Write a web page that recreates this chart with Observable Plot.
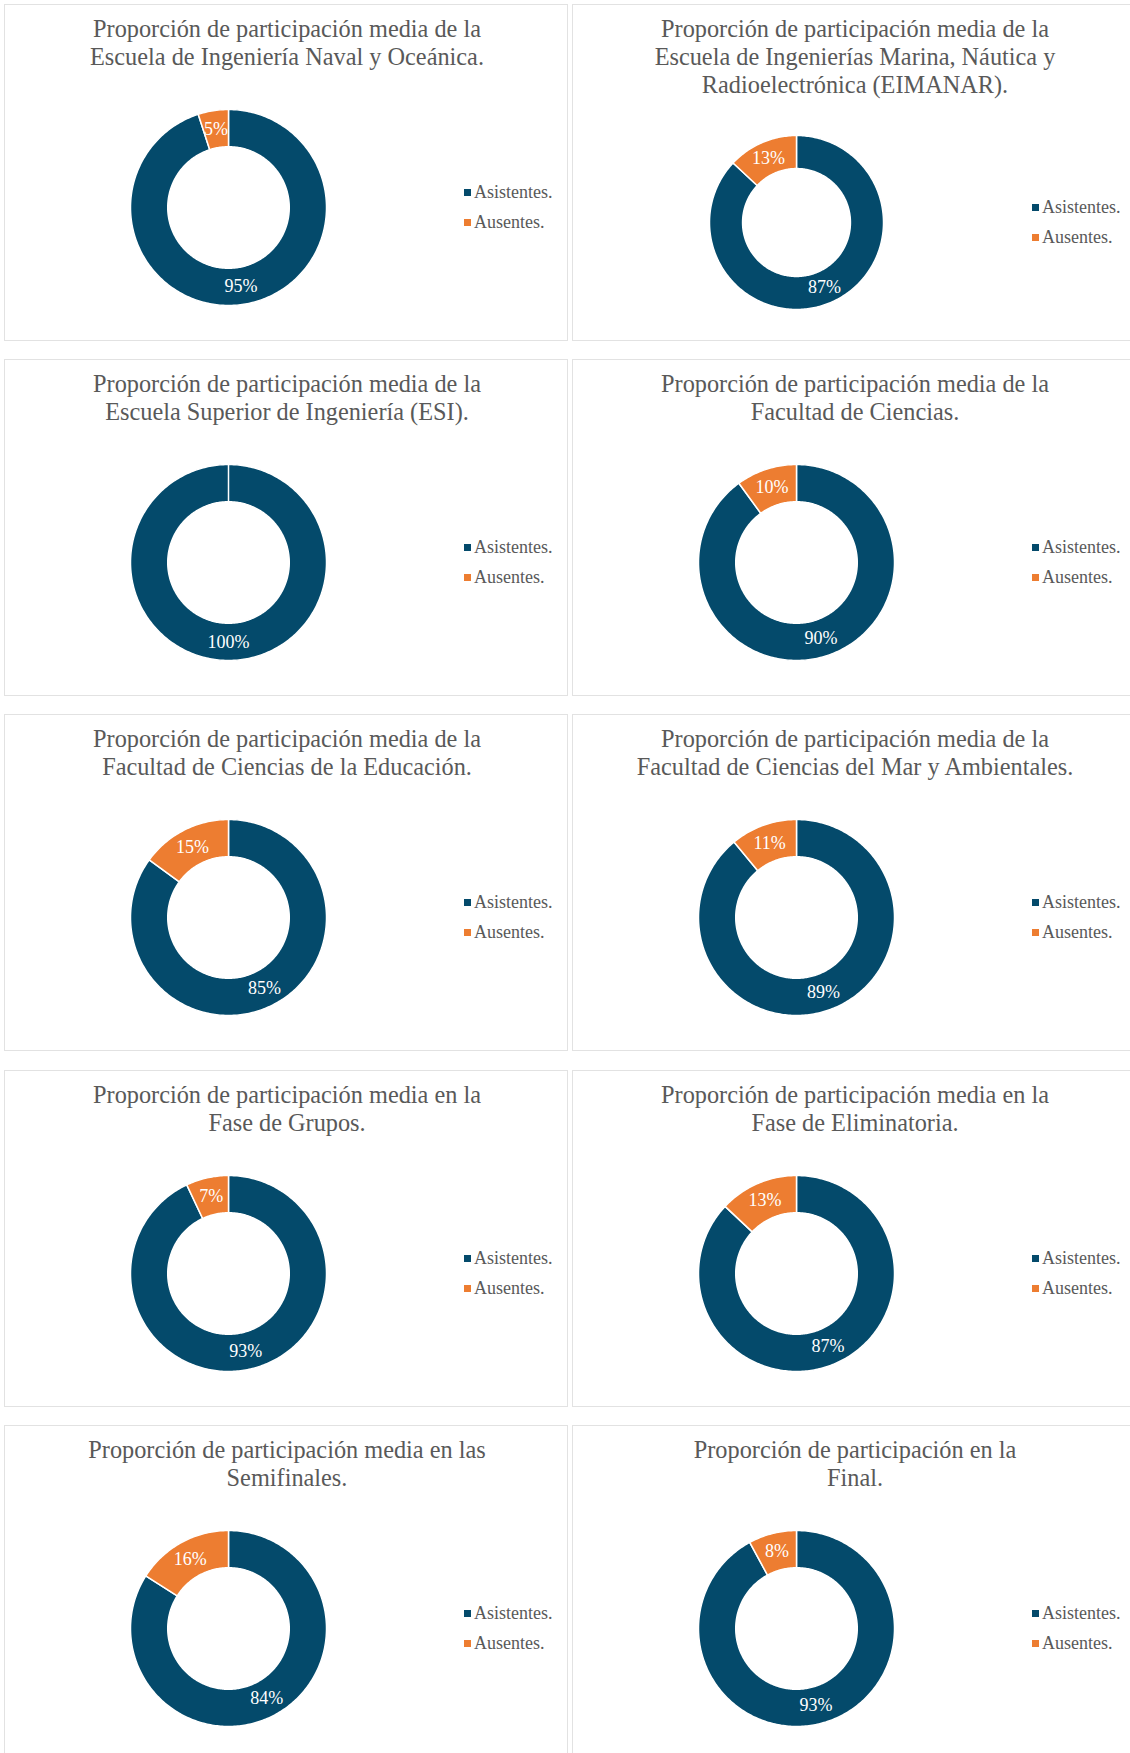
<!DOCTYPE html>
<html>
<head>
<meta charset="utf-8">
<script src="https://cdn.jsdelivr.net/npm/d3@7"></script>
<script src="https://cdn.jsdelivr.net/npm/@observablehq/plot@0.6"></script>
<style>
  html, body { margin: 0; padding: 0; background: #ffffff; }
  #page { position: relative; width: 1130px; height: 1753px; overflow: hidden; background: #fff; }
  .panel { position: absolute; box-sizing: border-box; border: 1.5px solid #e2e2e2; background: #fff; }
  .title { position: absolute; left: 0; width: 564px; text-align: center; font-family: "Liberation Serif", "DejaVu Serif", serif; font-size: 24.3px; line-height: 28px; color: #595959; white-space: nowrap; }
  .legend { position: absolute; font-family: "Liberation Serif", serif; font-size: 18px; color: #595959; }
  .legend .item { position: absolute; left: 0; height: 20px; line-height: 20px; white-space: nowrap; }
  .legend .sw { position: absolute; left: 0; top: 7px; width: 7px; height: 7px; }
  .legend .lab { position: absolute; left: 10px; top: 0; }
  .donut { position: absolute; }
</style>
</head>
<body>
<div id="page"></div>
<script>
// ---- data ----
const titles = [
  ["Proporción de participación media de la", "Escuela de Ingeniería Naval y Oceánica."],
  ["Proporción de participación media de la", "Escuela de Ingenierías Marina, Náutica y", "Radioelectrónica (EIMANAR)."],
  ["Proporción de participación media de la", "Escuela Superior de Ingeniería (ESI)."],
  ["Proporción de participación media de la", "Facultad de Ciencias."],
  ["Proporción de participación media de la", "Facultad de Ciencias de la Educación."],
  ["Proporción de participación media de la", "Facultad de Ciencias del Mar y Ambientales."],
  ["Proporción de participación media en la", "Fase de Grupos."],
  ["Proporción de participación media en la", "Fase de Eliminatoria."],
  ["Proporción de participación media en las", "Semifinales."],
  ["Proporción de participación en la", "Final."]
];
const categories = ["Asistentes.", "Ausentes."];
const asistentes = [95, 87, 100, 90, 85, 89, 93, 87, 84, 93];
const ausentes   = [5, 13, 0, 10, 15, 11, 7, 13, 16, 8];
const colors = ["#044A6B", "#ED7D31"];

// ---- layout ----
const colLeft = [4, 572];
const rowTop = [4, 359, 714, 1070, 1425];
const panelW = 564, panelH = 337;
const holeRatio = 0.62;

const page = document.getElementById("page");

function slices(values) {
  const total = d3.sum(values);
  const rows = [], labels = [];
  let acc = 0;
  values.forEach((v, i) => {
    if (v <= 0) return;
    const a0 = acc / total * 2 * Math.PI;
    const a1 = (acc + v) / total * 2 * Math.PI;
    acc += v;
    const n = Math.max(2, Math.ceil((a1 - a0) / (2 * Math.PI) * 360));
    for (let k = 0; k <= n; k++) {
      const a = a0 + (a1 - a0) * k / n;
      rows.push({cat: categories[i], x: Math.sin(a), y: Math.cos(a)});
    }
    for (let k = n; k >= 0; k--) {
      const a = a0 + (a1 - a0) * k / n;
      rows.push({cat: categories[i], x: Math.sin(a) * holeRatio, y: Math.cos(a) * holeRatio});
    }
    const m = (a0 + a1) / 2, r = (1 + holeRatio) / 2;
    labels.push({x: Math.sin(m) * r, y: Math.cos(m) * r, text: v + "%"});
  });
  return {rows, labels};
}

titles.forEach((t, idx) => {
  const col = idx % 2, row = Math.floor(idx / 2);
  const panel = document.createElement("div");
  panel.className = "panel";
  panel.style.left = colLeft[col] + "px";
  panel.style.top = rowTop[row] + "px";
  panel.style.width = panelW + "px";
  panel.style.height = panelH + "px";
  page.appendChild(panel);

  const title = document.createElement("div");
  title.className = "title";
  title.style.top = "10px";
  title.innerHTML = t.join("<br>");
  panel.appendChild(title);

  const three = t.length === 3;
  const cx = 223, cy = three ? 217 : 202, R = three ? 87 : 98;

  const {rows, labels} = slices([asistentes[idx], ausentes[idx]]);
  const size = 2 * R + 4;
  const svg = Plot.plot({
    width: size, height: size, margin: 2,
    x: {domain: [-1, 1], axis: null},
    y: {domain: [-1, 1], axis: null},
    color: {domain: categories, range: colors},
    style: {background: "none", overflow: "visible"},
    marks: [
      Plot.line(rows, {x: "x", y: "y", z: "cat", fill: "cat", stroke: "white", strokeWidth: 1.5, curve: "linear-closed"}),
      Plot.text(labels, {x: "x", y: "y", text: "text", fill: "white", fontSize: 18, fontFamily: "Liberation Serif"})
    ]
  });
  const wrap = document.createElement("div");
  wrap.className = "donut";
  wrap.style.left = (cx - R - 2) + "px";
  wrap.style.top = (cy - R - 2) + "px";
  wrap.appendChild(svg);
  panel.appendChild(wrap);

  const legend = document.createElement("div");
  legend.className = "legend";
  legend.style.left = "459px";
  legend.style.top = (cy - 25) + "px";
  categories.forEach((c, i) => {
    const it = document.createElement("div");
    it.className = "item";
    it.style.top = (i * 30) + "px";
    it.innerHTML = `<span class="sw" style="background:${colors[i]}"></span><span class="lab">${c}</span>`;
    legend.appendChild(it);
  });
  panel.appendChild(legend);
});
</script>
</body>
</html>
